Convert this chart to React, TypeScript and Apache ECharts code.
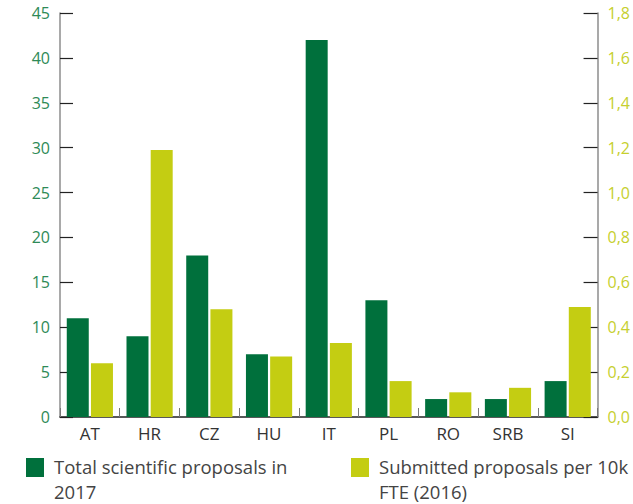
import React, { useEffect, useRef } from "react";
import * as echarts from "echarts";

// Countries on the category axis
const countries = ["AT", "HR", "CZ", "HU", "IT", "PL", "RO", "SRB", "SI"];

// Total scientific proposals in 2017 (left axis)
const totalProposals = [11, 9, 18, 7, 42, 13, 2, 2, 4];

// Submitted proposals per 10k FTE, 2016 (right axis)
const perTenK = [0.24, 1.19, 0.48, 0.27, 0.33, 0.16, 0.11, 0.13, 0.49];

const seriesNames = [
  "Total scientific proposals in 2017",
  "Submitted proposals per 10k FTE (2016)",
];
const legendLines = [
  "Total scientific proposals in\n2017",
  "Submitted proposals per 10k\nFTE (2016)",
];

const DARK_GREEN = "#00703c";
const LIME = "#c4cd12";
const FONT = "'Open Sans', Lato, sans-serif";

export default function App() {
  const ref = useRef<HTMLDivElement>(null);

  useEffect(() => {
    if (!ref.current) return;
    const chart = echarts.init(ref.current, undefined, { renderer: "svg" });

    const legendX = [26, 351];
    const legendColors = [DARK_GREEN, LIME];
    const legendGraphics: any[] = [];
    legendLines.forEach((txt, i) => {
      legendGraphics.push({
        type: "rect",
        left: legendX[i],
        top: 458,
        shape: { width: 18, height: 19 },
        style: { fill: legendColors[i] },
      });
      legendGraphics.push({
        type: "text",
        left: legendX[i] + 28,
        top: 454,
        style: {
          text: txt,
          fill: "#444",
          font: `18.5px ${FONT}`,
          lineHeight: 25,
        },
      });
    });

    chart.setOption({
      animation: false,
      textStyle: { fontFamily: FONT },
      grid: { left: 60, right: 27, top: 13, bottom: 87 },
      legend: { show: false, data: seriesNames },
      xAxis: {
        type: "category",
        data: countries,
        axisLine: { lineStyle: { color: "#222", width: 1.5 } },
        axisTick: {
          show: true,
          inside: true,
          length: 9,
          alignWithLabel: false,
          lineStyle: { color: "#777", width: 1 },
        },
        axisLabel: { color: "#333", fontSize: 17, margin: 8, fontFamily: FONT },
        splitLine: { show: false },
      },
      yAxis: [
        {
          type: "value",
          min: 0,
          max: 45,
          interval: 5,
          position: "left",
          axisLine: { show: true, lineStyle: { color: "#8c8c8c", width: 1.5 } },
          axisTick: {
            show: true,
            inside: true,
            length: 13,
            lineStyle: { color: "#222", width: 1.2 },
          },
          axisLabel: {
            color: "#2e8a57",
            fontSize: 16,
            margin: 10,
            padding: [10, 0, 0, 0],
            fontFamily: FONT,
          },
          splitLine: { show: false },
        },
        {
          type: "value",
          min: 0,
          max: 1.8,
          interval: 0.2,
          position: "right",
          axisLine: { show: true, lineStyle: { color: "#8c8c8c", width: 1.5 } },
          axisTick: {
            show: true,
            inside: true,
            length: 14,
            lineStyle: { color: "#222", width: 1.2 },
          },
          axisLabel: {
            color: "#c6cf2e",
            fontSize: 16,
            margin: 10,
            padding: [10, 0, 0, 0],
            fontFamily: FONT,
            formatter: (v: number) => v.toFixed(1).replace(".", ","),
          },
          splitLine: { show: false },
        },
      ],
      series: [
        {
          name: seriesNames[0],
          type: "bar",
          yAxisIndex: 0,
          data: totalProposals,
          barWidth: 22,
          barGap: "10%",
          itemStyle: { color: DARK_GREEN },
        },
        {
          name: seriesNames[1],
          type: "bar",
          yAxisIndex: 1,
          data: perTenK,
          barWidth: 22,
          barGap: "10%",
          itemStyle: { color: LIME },
        },
      ],
      graphic: legendGraphics,
    });

    return () => chart.dispose();
  }, []);

  return (
    <div
      ref={ref}
      style={{ position: "fixed", left: 0, top: 0, width: 633, height: 504, background: "#fff" }}
    />
  );
}
